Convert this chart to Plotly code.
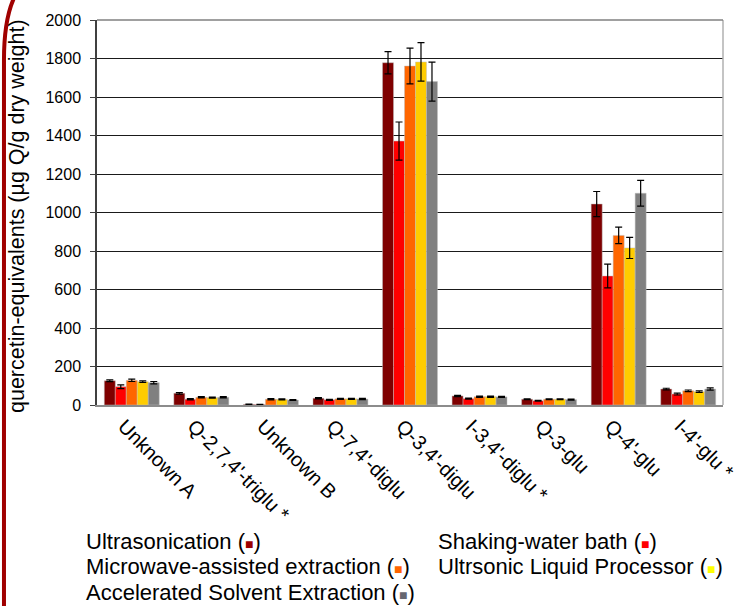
import plotly.graph_objects as go

categories = ["Unknown A", "Q-2,7,4'-triglu *", "Unknown B", "Q-7,4'-diglu", "Q-3,4'-diglu",
              "I-3,4'-diglu *", "Q-3-glu", "Q-4'-glu", "I-4'-glu *"]

series_names = ["Ultrasonication", "Shaking-water bath", "Microwave-assisted extraction",
                "Ultrsonic Liquid Processor", "Accelerated Solvent Extraction"]

ultrasonication = [126, 61, 3, 35, 1778, 47, 30, 1044, 83]
shaking = [95, 30, 2, 27, 1371, 33, 22, 670, 57]
microwave = [128, 40, 30, 32, 1761, 43, 30, 881, 74]
liquid_processor = [121, 38, 29, 32, 1782, 43, 30, 816, 69]
ase = [116, 40, 26, 31, 1680, 42, 28, 1100, 83]

err_ultrasonication = [5, 4, 2, 3, 58, 3, 2, 65, 4]
err_shaking = [10, 3, 1, 3, 99, 3, 2, 62, 5]
err_microwave = [6, 3, 3, 3, 93, 3, 2, 43, 4]
err_liquid_processor = [4, 3, 3, 3, 100, 3, 2, 55, 4]
err_ase = [6, 3, 2, 3, 101, 3, 3, 67, 6]

bar_colors = ["#7F0000", "#FF0000", "#FF6600", "#FFCC00", "#808080"]
legend_swatch = ["#9C0000", "#FF0000", "#FF6600", "#FFFF00", "#666670"]

values = [ultrasonication, shaking, microwave, liquid_processor, ase]
errors = [err_ultrasonication, err_shaking, err_microwave, err_liquid_processor, err_ase]

y_ticks = list(range(0, 2001, 200))

y_title = "quercetin-equivalents (µg Q/g dry weight)"

fig = go.Figure()
for name, v, e, c in zip(series_names, values, errors, bar_colors):
    fig.add_trace(go.Bar(
        x=categories, y=v, name=name,
        marker=dict(color=c, line=dict(color="rgba(190,190,190,0.6)", width=0.8)),
        error_y=dict(type="data", array=e, visible=True, color="#000000",
                     thickness=1.2, width=3.5),
        showlegend=False,
    ))

W, H = 743, 606
L, R, T, B = 97, 20, 20, 201
pw, ph = W - L - R, H - T - B

def px(x):
    return (x - L) / pw

def py(y):
    return (H - B - y) / ph

FONT = "Liberation Sans, Arial, Helvetica, sans-serif"

fig.update_layout(
    width=W, height=H,
    margin=dict(l=L, r=R, t=T, b=B, autoexpand=False),
    barmode="group", bargap=0.21, bargroupgap=0,
    plot_bgcolor="white", paper_bgcolor="white",
    font=dict(family=FONT, color="#000000"),
    xaxis=dict(
        type="category", tickangle=45, tickfont=dict(size=20),
        showline=True, linecolor="#8c8c8c", linewidth=1.5,
        showgrid=False, ticks="", mirror=False,
        ticklabelshift=-8,
    ),
    yaxis=dict(
        range=[0, 2000], tickvals=y_ticks, tickfont=dict(size=16),
        showgrid=True, gridcolor="#1a1a1a", gridwidth=1,
        showline=True, linecolor="#404040", linewidth=1.5,
        ticks="outside", ticklen=5, tickcolor="#404040",
        ticklabelstandoff=6,
        zeroline=False,
    ),
)

# y-axis title
fig.add_annotation(xref="paper", yref="paper", x=px(17), y=py(216),
                   xanchor="center", yanchor="middle", showarrow=False,
                   textangle=-90, text=y_title, font=dict(size=21.5, color="#000000"))

# right and top border of plot area
fig.add_shape(type="line", xref="paper", yref="paper", x0=1, x1=1, y0=0, y1=1,
              line=dict(color="#b0b0b0", width=1.5))
fig.add_shape(type="line", xref="paper", yref="paper", x0=0, x1=1, y0=1, y1=1,
              line=dict(color="#808080", width=1.5))

# decorative left frame line
path = "M {:.4f},{:.4f} Q {:.4f},{:.4f} {:.4f},{:.4f} L {:.4f},{:.4f}".format(
    px(14), py(-2), px(4), py(20), px(4), py(60), px(4), py(608))
fig.add_shape(type="path", xref="paper", yref="paper", path=path,
              line=dict(color="#A00000", width=4))

# legend as text
legend_pos = [(84, 541), (436, 541), (84, 566), (436, 566), (84, 592)]
for name, sw, (lx, ly) in zip(series_names, legend_swatch, legend_pos):
    fig.add_annotation(
        xref="paper", yref="paper", x=px(lx), y=py(ly),
        xanchor="left", yanchor="middle", showarrow=False,
        text=f"{name} (<span style='color:{sw};font-size:14px'>■</span>)",
        font=dict(size=22, color="#000000"),
    )

fig.write_html("out.html", config={"displayModeBar": False},
               post_script="document.body.style.margin='0';")
